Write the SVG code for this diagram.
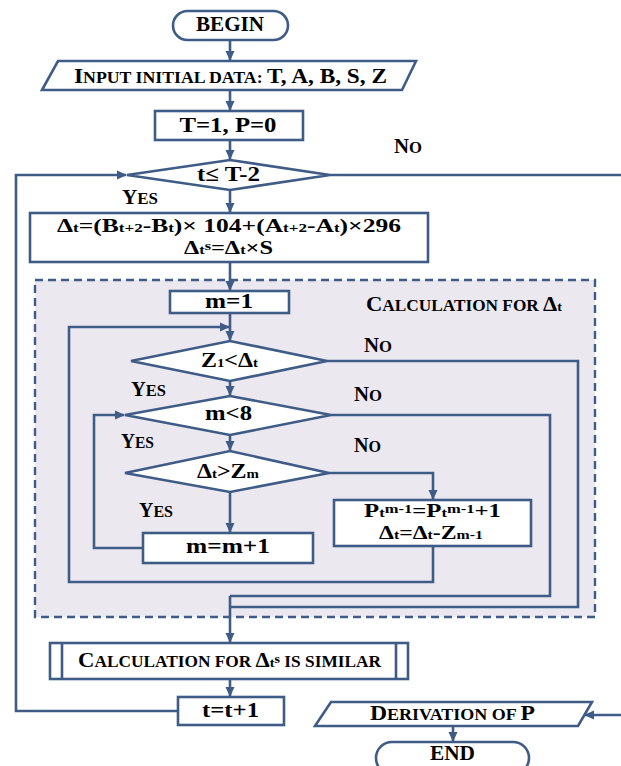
<svg xmlns="http://www.w3.org/2000/svg" width="621" height="766" viewBox="0 0 621 766">
<defs>
<marker id="ah" markerWidth="10" markerHeight="10" refX="9" refY="5" orient="auto" markerUnits="userSpaceOnUse"><path d="M0,0.5 L10,5 L0,9.5 z" fill="#3e5c86"/></marker>
</defs>
<style>
.s{fill:#fff;stroke:#3e5c86;stroke-width:2.6}
.c{fill:none;stroke:#3e5c86;stroke-width:2.6}
.a{marker-end:url(#ah)}
text{font-family:"Liberation Serif","Times New Roman",serif;font-weight:bold;fill:#000;font-size:21px}
.m{text-anchor:middle}
.sc{font-size:16px}
.sb{font-size:13px}
.lb{font-size:20px}
.tw{font-size:18px}
.tw .sb{font-size:12px}
</style>
<rect x="35" y="280" width="560" height="337" fill="#ebe8f0" stroke="#3e5c86" stroke-width="2.4" stroke-dasharray="8,5"/>
<g id="connectors">
<path class="c a" d="M230,40 V60"/>
<path class="c a" d="M230,90 V110"/>
<path class="c a" d="M230,140 V159"/>
<path class="c" d="M330,175 H621"/>
<path class="c a" d="M230,190 V212"/>
<path class="c a" d="M178,711 H16 V175 H126"/>
<path class="c a" d="M230,262 V290"/>
<path class="c a" d="M230,313 V340"/>
<path class="c a" d="M433,546 V582 H69 V327 H229"/>
<path class="c" d="M327,361 H578 V607 H230"/>
<path class="c a" d="M230,381 V395"/>
<path class="c" d="M331,415 H550 V596 H230"/>
<path class="c a" d="M230,435 V450"/>
<path class="c a" d="M329,473 H433 V499"/>
<path class="c a" d="M230,492 V532"/>
<path class="c a" d="M143,548 H94 V415 H124"/>
<path class="c a" d="M230,596 V642"/>
<path class="c a" d="M230,679 V696"/>
<path class="c a" d="M621,715 H585"/>
<path class="c a" d="M453,726 V741"/>
</g>
<g id="begin"><rect class="s" x="173" y="11" width="115" height="29" rx="14.5"/><text class="m" x="230" y="31" textLength="68" lengthAdjust="spacingAndGlyphs" font-size="23">BEGIN</text></g>
<g id="input"><polygon class="s" points="42,90 58,61 416,61 402,90"/><text class="m" x="230.5" y="83" textLength="313" lengthAdjust="spacingAndGlyphs">I<tspan class="sc">NPUT INITIAL DATA: </tspan>T, A, B, S, Z</text></g>
<g id="init"><rect class="s" x="155" y="111" width="148" height="29"/><text class="m" x="228" y="132" textLength="97" lengthAdjust="spacingAndGlyphs">T=1, P=0</text></g>
<g id="cond1"><polygon class="s" points="127,175 230,160 330,175 230,190"/><text class="m" x="228.5" y="181" textLength="63" lengthAdjust="spacingAndGlyphs">t≤ T-2</text></g>
<text x="394" y="153" class="lb" textLength="28" lengthAdjust="spacingAndGlyphs">N<tspan class="sc">O</tspan></text>
<text x="122" y="204" class="lb" textLength="36" lengthAdjust="spacingAndGlyphs">Y<tspan class="sc">ES</tspan></text>
<g id="delta"><rect class="s" x="30" y="213" width="398" height="49"/>
<text class="m tw" x="229" y="232" textLength="344" lengthAdjust="spacingAndGlyphs">Δ<tspan class="sb">t</tspan>=(B<tspan class="sb">t+2</tspan>-B<tspan class="sb">t</tspan>)× 104+(A<tspan class="sb">t+2</tspan>-A<tspan class="sb">t</tspan>)×296</text>
<text class="m tw" x="228.5" y="254" textLength="89" lengthAdjust="spacingAndGlyphs">Δ<tspan class="sb">t</tspan><tspan class="sb" baseline-shift="4">s</tspan>=Δ<tspan class="sb">t</tspan>×S</text></g>
<text x="464" y="311" class="m" textLength="196" lengthAdjust="spacingAndGlyphs">C<tspan class="sc">ALCULATION FOR </tspan>Δ<tspan class="sb">t</tspan></text>
<g id="m1"><rect class="s" x="170" y="291" width="119" height="22"/><text class="m" x="229" y="308" textLength="48" lengthAdjust="spacingAndGlyphs">m=1</text></g>
<g id="cond2"><polygon class="s" points="131,361 230,341 327,361 230,381"/><text class="m" x="229.5" y="367" textLength="57" lengthAdjust="spacingAndGlyphs">Z<tspan class="sb">1</tspan>&lt;Δ<tspan class="sb">t</tspan></text></g>
<text x="364" y="352" class="lb" textLength="28" lengthAdjust="spacingAndGlyphs">N<tspan class="sc">O</tspan></text>
<text x="131" y="396" class="lb" textLength="35" lengthAdjust="spacingAndGlyphs">Y<tspan class="sc">ES</tspan></text>
<g id="cond3"><polygon class="s" points="125,415 230,396 331,415 230,435"/><text class="m" x="228.5" y="420" textLength="47" lengthAdjust="spacingAndGlyphs">m&lt;8</text></g>
<text x="354" y="401" class="lb" textLength="28" lengthAdjust="spacingAndGlyphs">N<tspan class="sc">O</tspan></text>
<text x="121" y="448" class="lb" textLength="33" lengthAdjust="spacingAndGlyphs">Y<tspan class="sc">ES</tspan></text>
<g id="cond4"><polygon class="s" points="125,473 230,451 329,473 230,492"/><text class="m" x="228" y="478" textLength="62" lengthAdjust="spacingAndGlyphs">Δ<tspan class="sb">t</tspan>&gt;Z<tspan class="sb">m</tspan></text></g>
<text x="354" y="452" class="lb" textLength="27" lengthAdjust="spacingAndGlyphs">N<tspan class="sc">O</tspan></text>
<text x="139" y="517" class="lb" textLength="34" lengthAdjust="spacingAndGlyphs">Y<tspan class="sc">ES</tspan></text>
<g id="minc"><rect class="s" x="143" y="533" width="170" height="30"/><text class="m" x="228" y="553" textLength="84" lengthAdjust="spacingAndGlyphs">m=m+1</text></g>
<g id="pbox"><rect class="s" x="334" y="500" width="197" height="46"/>
<text class="m tw" x="432.5" y="517" textLength="137" lengthAdjust="spacingAndGlyphs">P<tspan class="sb">t</tspan><tspan class="sb" baseline-shift="4">m-1</tspan>=P<tspan class="sb">t</tspan><tspan class="sb" baseline-shift="4">m-1</tspan>+1</text>
<text class="m tw" x="431" y="539" textLength="104" lengthAdjust="spacingAndGlyphs">Δ<tspan class="sb">t</tspan>=Δ<tspan class="sb">t</tspan>-Z<tspan class="sb">m-1</tspan></text></g>
<g id="calc"><rect class="s" x="50" y="643" width="358" height="36"/><path class="c" d="M62,643 V679 M396,643 V679"/>
<text class="m" x="229.5" y="667" textLength="303" lengthAdjust="spacingAndGlyphs">C<tspan class="sc">ALCULATION FOR </tspan>Δ<tspan class="sb">t</tspan><tspan class="sb" baseline-shift="4">s</tspan><tspan class="sc"> IS SIMILAR</tspan></text></g>
<g id="tinc"><rect class="s" x="178" y="697" width="106" height="28"/><text class="m" x="230.5" y="717" textLength="57" lengthAdjust="spacingAndGlyphs">t=t+1</text></g>
<g id="deriv"><polygon class="s" points="315,726 331,702 592,702 578,726"/><text class="m" x="452.5" y="720" textLength="165" lengthAdjust="spacingAndGlyphs">D<tspan class="sc">ERIVATION OF </tspan>P</text></g>
<g id="end"><rect class="s" x="376" y="742" width="153" height="32" rx="16"/><text class="m" x="452.5" y="760" textLength="45" lengthAdjust="spacingAndGlyphs" font-size="22">END</text></g>
</svg>
